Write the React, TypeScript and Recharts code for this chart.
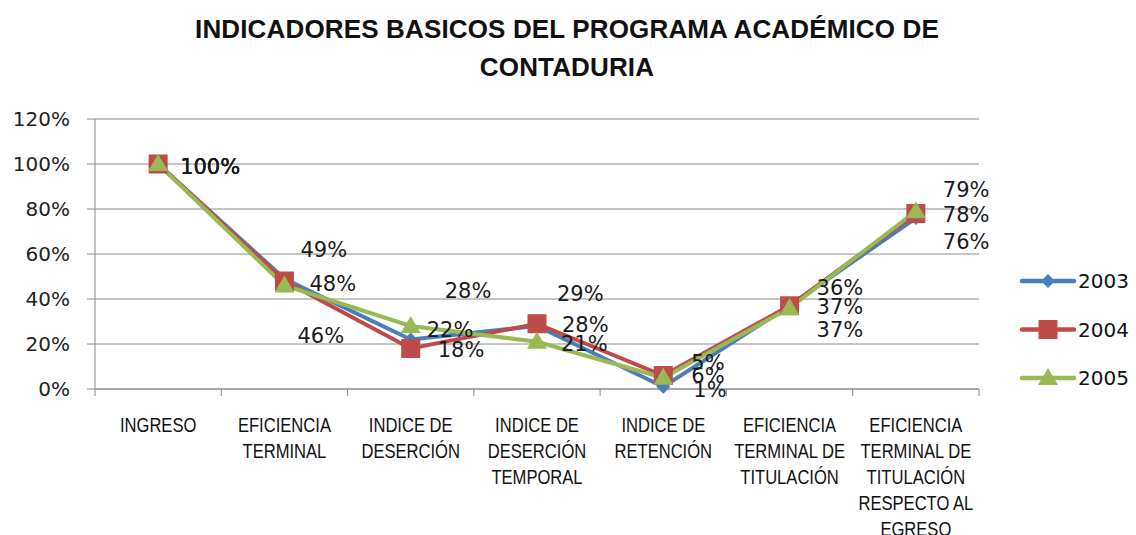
import React from 'react';
import { LineChart, Line, XAxis, YAxis, CartesianGrid, LabelList } from 'recharts';

const categories = [
  'INGRESO',
  'EFICIENCIA TERMINAL',
  'INDICE DE DESERCIÓN',
  'INDICE DE DESERCIÓN TEMPORAL',
  'INDICE DE RETENCIÓN',
  'EFICIENCIA TERMINAL DE TITULACIÓN',
  'EFICIENCIA TERMINAL DE TITULACIÓN RESPECTO AL EGRESO',
];
const categoryLines = [
  ['INGRESO'],
  ['EFICIENCIA', 'TERMINAL'],
  ['INDICE DE', 'DESERCIÓN'],
  ['INDICE DE', 'DESERCIÓN', 'TEMPORAL'],
  ['INDICE DE', 'RETENCIÓN'],
  ['EFICIENCIA', 'TERMINAL DE', 'TITULACIÓN'],
  ['EFICIENCIA', 'TERMINAL DE', 'TITULACIÓN', 'RESPECTO AL', 'EGRESO'],
];
const seriesNames = ['2003', '2004', '2005'];
const values2003 = [100, 49, 22, 28, 1, 37, 76];
const values2004 = [100, 48, 18, 29, 6, 37, 78];
const values2005 = [100, 46, 28, 21, 5, 36, 79];
const yTicks = [0, 20, 40, 60, 80, 100, 120];
const titleLines = ['INDICADORES BASICOS DEL PROGRAMA ACADÉMICO DE', 'CONTADURIA'];

const data = categories.map((c, i) => ({
  name: c,
  s2003: values2003[i],
  s2004: values2004[i],
  s2005: values2005[i],
}));

// style constants
const W = 1136;
const H = 535;
const PLOT_LEFT = 95;
const PLOT_RIGHT = 979;
const PLOT_TOP = 119;
const PLOT_BOTTOM = 389;
const BAND = (PLOT_RIGHT - PLOT_LEFT) / categories.length;
const COLORS = ['#4A7EBB', '#BE4B48', '#98B954'];
const GRID = '#8A8A8A';
const NUM_FONT = '"DejaVu Sans", sans-serif';
const CAT_FONT = '"Liberation Sans", sans-serif';

// label offsets (dx from point to label left edge, dy from point to label center)
const labelOffsets = [
  [[22, 2], [16, -29], [16, -10], [25, -2], [30, 3], [27, 24], [27, 23]],
  [[22, 2], [25, 2], [27, 1], [20, -30], [28, 0], [27, 1], [27, 1]],
  [[22, 2], [13, 50], [34, -36], [24, 2], [28, -15], [27, -21], [27, -22]],
];

const Diamond = (p: any) => {
  const { cx, cy } = p;
  if (cx == null || cy == null) return null;
  return <polygon points={`${cx},${cy - 7} ${cx + 7},${cy} ${cx},${cy + 7} ${cx - 7},${cy}`} fill={COLORS[0]} />;
};
const Square = (p: any) => {
  const { cx, cy } = p;
  if (cx == null || cy == null) return null;
  return <rect x={cx - 9.5} y={cy - 9.5} width={19} height={19} fill={COLORS[1]} />;
};
const Triangle = (p: any) => {
  const { cx, cy } = p;
  if (cx == null || cy == null) return null;
  return <polygon points={`${cx},${cy - 10} ${cx + 10},${cy + 7} ${cx - 10},${cy + 7}`} fill={COLORS[2]} />;
};
const dotShapes = [Diamond, Square, Triangle];

const makeLabel = (s: number) => (props: any) => {
  const idx = props.index;
  const vb = props.viewBox || {};
  const x = props.x ?? vb.x;
  const y = props.y ?? vb.y;
  if (x == null || y == null || idx == null) return null;
  const [dx, dy] = labelOffsets[s][idx];
  return (
    <text
      x={x + dx}
      y={y + dy}
      dy="0.36em"
      textAnchor="start"
      fontFamily={NUM_FONT}
      fontSize={21}
      fill="#1a1a1a"
    >
      {`${props.value}%`}
    </text>
  );
};

const XTick = (props: any) => {
  const { x, payload, index } = props;
  const i = payload?.index ?? index;
  const lines = categoryLines[i] || [];
  const half = BAND / 2;
  return (
    <g>
      <line x1={x - half} x2={x - half} y1={PLOT_BOTTOM} y2={PLOT_BOTTOM + 7} stroke={GRID} strokeWidth={1} />
      {i === categories.length - 1 && (
        <line x1={x + half} x2={x + half} y1={PLOT_BOTTOM} y2={PLOT_BOTTOM + 7} stroke={GRID} strokeWidth={1} />
      )}
      <g transform={`translate(${x},${PLOT_BOTTOM + 43}) scale(0.79,1)`}>
        <text x={0} y={0} textAnchor="middle" fontFamily={CAT_FONT} fontSize={21} fill="#111">
          {lines.map((l, k) => (
            <tspan key={k} x={0} dy={k === 0 ? 0 : 26}>
              {l}
            </tspan>
          ))}
        </text>
      </g>
    </g>
  );
};

const Legend2 = () => (
  <svg width={118} height={140} style={{ position: 'absolute', left: 1018, top: 255 }}>
    {seriesNames.map((n, i) => {
      const cy = 26 + i * 48.5;
      const Shape = dotShapes[i];
      return (
        <g key={n}>
          <line x1={4} x2={56} y1={cy} y2={cy} stroke={COLORS[i]} strokeWidth={4.5} strokeLinecap="round" />
          <Shape cx={30} cy={cy} />
          <text x={60} y={cy} dy="0.36em" fontFamily={NUM_FONT} fontSize={20} fill="#111">
            {n}
          </text>
        </g>
      );
    })}
  </svg>
);

export default function App() {
  const keys = ['s2003', 's2004', 's2005'];
  return (
    <div style={{ position: 'absolute', left: 0, top: 0, width: W, height: H, background: '#fff', overflow: 'hidden' }}>
      <div
        style={{
          position: 'absolute',
          left: 0,
          top: 10,
          width: W - 2,
          textAlign: 'center',
          fontFamily: '"Liberation Sans", sans-serif',
          fontWeight: 'bold',
          fontSize: 26,
          letterSpacing: 0.15,
          lineHeight: '38px',
          color: '#111',
        }}
      >
        {titleLines.map((t, i) => (
          <div key={i}>{t}</div>
        ))}
      </div>
      <LineChart
        width={W}
        height={H}
        data={data}
        margin={{ top: PLOT_TOP, right: W - PLOT_RIGHT, left: 10, bottom: H - PLOT_BOTTOM - 140 }}
        style={{ position: 'absolute', left: 0, top: 0 }}
      >
        <CartesianGrid vertical={false} stroke={GRID} strokeWidth={1} />
        <XAxis
          dataKey="name"
          height={140}
          interval={0}
          tickLine={false}
          padding={{ left: BAND / 2, right: BAND / 2 }}
          axisLine={{ stroke: GRID, strokeWidth: 1 }}
          tick={<XTick />}
        />
        <YAxis
          width={PLOT_LEFT - 10}
          domain={[0, 120]}
          ticks={yTicks}
          interval={0}
          tickFormatter={(v: number) => `${v}%`}
          axisLine={{ stroke: GRID, strokeWidth: 1 }}
          tickLine={{ stroke: GRID, strokeWidth: 1 }}
          tickSize={8}
          tickMargin={17}
          tick={{ fontFamily: NUM_FONT, fontSize: 20, fill: '#222' }}
        />
        {keys.map((k, s) => (
          <Line
            key={k}
            dataKey={k}
            name={seriesNames[s]}
            stroke={COLORS[s]}
            strokeWidth={4}
            dot={dotShapes[s]}
            activeDot={false}
            isAnimationActive={false}
          >
            <LabelList dataKey={k} content={makeLabel(s)} />
          </Line>
        ))}
      </LineChart>
      <Legend2 />
    </div>
  );
}
